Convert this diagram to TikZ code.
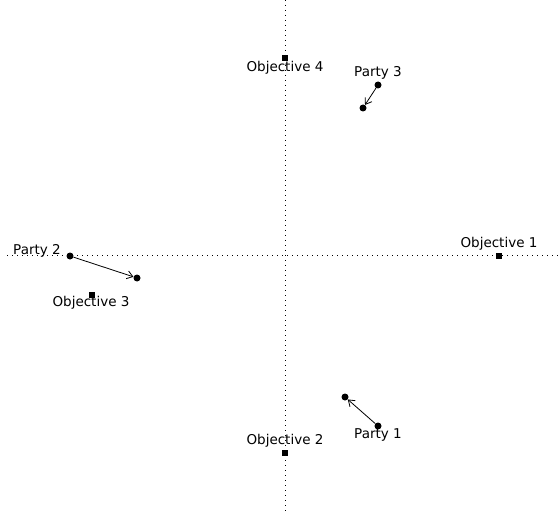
\documentclass[tikz,border=0pt]{standalone}
\usepackage{fontspec}
\setmainfont{DejaVu Sans}
\usetikzlibrary{arrows.meta, positioning}

\begin{document}
\begin{tikzpicture}[x=1pt,y=-1pt,>={Straight Barb[angle=70:7pt]},
        party/.style={circle,fill,inner sep=0pt,minimum size=7pt},
        objective/.style={rectangle,fill,inner sep=0pt,minimum size=6.5pt},
        axis/.style={line width=1pt,dash pattern=on 1pt off 4pt},
        lbl/.style={font=\fontsize{13.5}{16}\selectfont,inner sep=0pt}]

        \useasboundingbox (0,0) rectangle (558,511);

        % axes
        \coordinate (top) at (285,0);
        \coordinate (bot) at (285,511);
        \coordinate (lft) at (7,255.5);
        \coordinate (rgt) at (558,255.5);
        \draw[axis] (top) -- (bot);
        \draw[axis] (lft) -- (rgt);

        % objectives
        \node[objective] (obj1) at (499,256) {};
        \node[objective] (obj2) at (285,453) {};
        \node[objective] (obj3) at (92,295) {};
        \node[objective] (obj4) at (285,58) {};
        \node[lbl] (obj1l) at (499,244) {Objective 1};
        \node[lbl] (obj2l) at (285,441) {Objective 2};
        \node[lbl] (obj3l) at (91,303) {Objective 3};
        \node[lbl] (obj4l) at (285,68) {Objective 4};

        % parties
        \node[party] (p1) at (378,426) {};
        \node[party] (p1n) at (345,397) {};
        \node[party] (p2) at (70,256) {};
        \node[party] (p2n) at (137,278) {};
        \node[party] (p3) at (378,85) {};
        \node[party] (p3n) at (363,108) {};
        \node[lbl] (p1l) at (378,435) {Party 1};
        \node[lbl] (p2l) at (37,251) {Party 2};
        \node[lbl] (p3l) at (378,73) {Party 3};

        \draw[->,line width=0.8pt] (p1) -- (p1n);
        \draw[->,line width=0.8pt] (p2) -- (p2n);
        \draw[->,line width=0.8pt] (p3) -- (p3n);
\end{tikzpicture}
\end{document}
